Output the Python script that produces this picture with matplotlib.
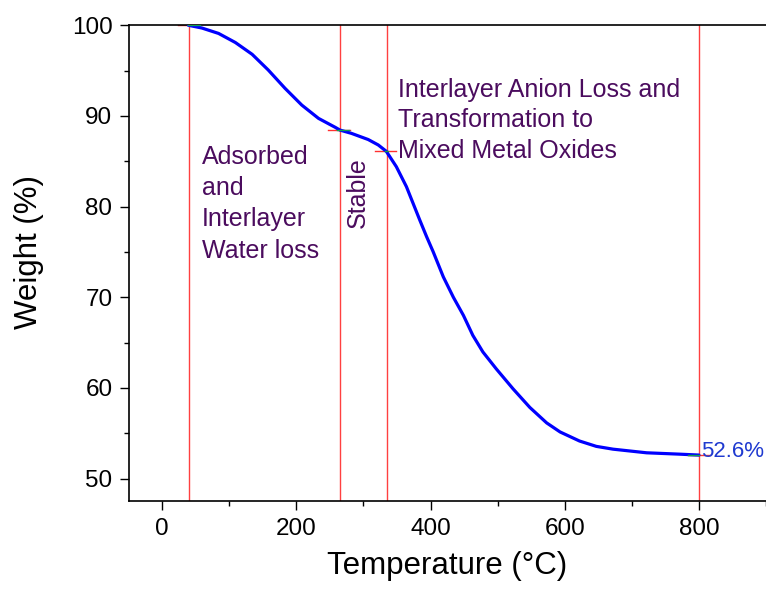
import matplotlib
matplotlib.use("Agg")
import matplotlib.pyplot as plt
from matplotlib.ticker import MultipleLocator

# TGA curve
temp_c = [39, 59, 84, 109, 134, 158, 183, 208, 233, 258, 265, 282, 307,
          322, 334, 349, 364, 374, 384, 394, 404, 419, 434, 449, 463, 478,
          498, 523, 548, 573, 593, 622, 647, 672, 722, 771, 800]
weight_pct = [100.0, 99.7, 99.1, 98.1, 96.8, 95.07, 93.05, 91.2, 89.73,
              88.74, 88.44, 88.08, 87.4, 86.8, 86.1, 84.4, 82.2, 80.35,
              78.5, 76.7, 75.0, 72.25, 70.0, 68.0, 65.8, 63.97, 62.1, 59.9,
              57.85, 56.15, 55.15, 54.15, 53.56, 53.25, 52.85, 52.7, 52.6]

# stage boundaries (vertical lines) and the tangent marks Origin left on them
boundary_t = [40, 265, 335, 800]
mark_t0 = [23, 247, 317, 783]
mark_t1 = [39, 280, 349, 816]
mark_w = [100.0, 88.44, 86.1, 52.6]
green_t0 = [39, 261, 332, 783]
green_t1 = [57, 279, 337, 800]

residue_label = "52.6%"
text_color = "#4b0c5e"

plt.rcParams["font.family"] = ["Liberation Sans", "DejaVu Sans"]

fig = plt.figure(figsize=(7.66, 5.92), dpi=100)
ax = fig.add_axes([0.168, 0.1532, 0.832, 0.8041])

for t in boundary_t:
    ax.axvline(t, color="#ff4040", linewidth=1.0, zorder=1)
for a, b, w in zip(mark_t0, mark_t1, mark_w):
    ax.plot([a, b], [w, w], color="#ff3030", linewidth=1.0, zorder=2)

ax.plot(temp_c, weight_pct, color="#0000ff", linewidth=2.3, zorder=3,
        solid_capstyle="round", solid_joinstyle="round")

for a, b, w in zip(green_t0, green_t1, mark_w):
    ax.plot([a, b], [w, w], color="#10a050", linewidth=1.0, zorder=4)

ax.text(59, 86.8, "Adsorbed\nand\nInterlayer\nWater loss", fontsize=18,
        color=text_color, ha="left", va="top", linespacing=1.38)
ax.text(292, 81.5, "Stable", fontsize=18, color=text_color, rotation=90,
        ha="center", va="center")
ax.text(352, 94.2, "Interlayer Anion Loss and\nTransformation to\nMixed Metal Oxides",
        fontsize=18, color=text_color, ha="left", va="top", linespacing=1.34)
ax.text(803, 53.0, residue_label, fontsize=16, color="#1f3ad0",
        ha="left", va="center")

ax.set_xlim(-50, 900)
ax.set_ylim(47.5, 100)
ax.xaxis.set_major_locator(MultipleLocator(200))
ax.xaxis.set_minor_locator(MultipleLocator(100))
ax.yaxis.set_major_locator(MultipleLocator(10))
ax.yaxis.set_minor_locator(MultipleLocator(5))

ax.spines["right"].set_visible(False)
for s in ("left", "bottom", "top"):
    ax.spines[s].set_linewidth(1.2)

ax.tick_params(which="major", direction="out", length=6.7, width=1.0,
               labelsize=17.5, pad=5)
ax.tick_params(which="minor", direction="out", length=3.6, width=1.0)
ax.tick_params(top=False, right=False, which="both")

ax.set_xlabel("Temperature (°C)", fontsize=22.5, labelpad=8)
ax.set_ylabel("Weight (%)", fontsize=22.5, labelpad=12)
ax.yaxis.set_label_coords(-0.133, 0.524)

fig.savefig("out.png", dpi=100)
